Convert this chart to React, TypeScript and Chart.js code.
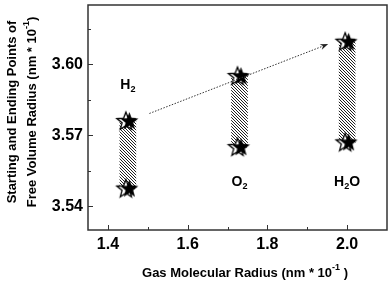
import React, { useEffect, useRef } from "react";
import { Chart, registerables } from "chart.js";

Chart.register(...registerables);

// ---- data ----
const gasNames = ["H2", "O2", "H2O"];
const molecularRadius = [1.45, 1.73, 2.0];
const startRadius = [3.5475, 3.565, 3.567];
const endRadius = [3.576, 3.595, 3.6095];
const labelX = [1.45, 1.73, 2.0];
const labelY = [3.5912, 3.5504, 3.5504];
const arrowFrom = [1.504, 3.5792];
const arrowTo = [1.9525, 3.6085];
const xTicks = [1.4, 1.6, 1.8, 2.0];
const xMinorTicks = [1.5, 1.7, 1.9];
const yTicks = [3.54, 3.57, 3.6];
const yMinorTicks = [3.555, 3.585, 3.615];

const FONT = "'Liberation Sans', Arial, sans-serif";

function starPath(ctx: CanvasRenderingContext2D, cx: number, cy: number, ro: number, ri: number) {
  ctx.beginPath();
  for (let i = 0; i < 10; i++) {
    const r = i % 2 === 0 ? ro : ri;
    const a = -Math.PI / 2 + (i * Math.PI) / 5;
    const x = cx + r * Math.cos(a);
    const y = cy + r * Math.sin(a);
    if (i === 0) ctx.moveTo(x, y);
    else ctx.lineTo(x, y);
  }
  ctx.closePath();
}

function makeStarImage() {
  const c = document.createElement("canvas");
  c.width = 28;
  c.height = 22;
  const ctx = c.getContext("2d")!;
  starPath(ctx, 12, 11.5, 9.5, 4);
  ctx.fillStyle = "#fff";
  ctx.fill();
  ctx.lineWidth = 1.3;
  ctx.strokeStyle = "#000";
  ctx.stroke();
  starPath(ctx, 15.5, 11.5, 9.5, 4);
  ctx.fillStyle = "#000";
  ctx.fill();
  return c;
}

function makeHatch(ctx: CanvasRenderingContext2D) {
  const t = document.createElement("canvas");
  t.width = 3;
  t.height = 3;
  const tc = t.getContext("2d")!;
  tc.fillStyle = "#fff";
  tc.fillRect(0, 0, 3, 3);
  tc.fillStyle = "#222";
  for (let i = 0; i < 3; i++) tc.fillRect(i, i, 1, 1);
  return ctx.createPattern(t, "repeat")!;
}

function drawRich(
  ctx: CanvasRenderingContext2D,
  parts: { t: string; size: number; dy: number }[],
  x: number,
  y: number,
  align: "center" | "left"
) {
  let total = 0;
  for (const p of parts) {
    ctx.font = `bold ${p.size}px ${FONT}`;
    total += ctx.measureText(p.t).width;
  }
  let cx = align === "center" ? x - total / 2 : x;
  ctx.textAlign = "left";
  ctx.textBaseline = "middle";
  for (const p of parts) {
    ctx.font = `bold ${p.size}px ${FONT}`;
    ctx.fillText(p.t, cx, y + p.dy);
    cx += ctx.measureText(p.t).width;
  }
}

function chemParts(name: string, size: number) {
  const parts: { t: string; size: number; dy: number }[] = [];
  for (const ch of name) {
    if (/[0-9]/.test(ch)) parts.push({ t: ch, size: size * 0.65, dy: size * 0.35 });
    else parts.push({ t: ch, size, dy: 0 });
  }
  return parts;
}

const decorPlugin = {
  id: "decor",
  afterDatasetsDraw(chart: any) {
    const ctx: CanvasRenderingContext2D = chart.ctx;
    const xs = chart.scales.x;
    const ys = chart.scales.y;
    ctx.save();
    const x1 = xs.getPixelForValue(arrowFrom[0]);
    const y1 = ys.getPixelForValue(arrowFrom[1]);
    const x2 = xs.getPixelForValue(arrowTo[0]);
    const y2 = ys.getPixelForValue(arrowTo[1]);
    const ang = Math.atan2(y2 - y1, x2 - x1);
    const hl = 8;
    ctx.strokeStyle = "#333";
    ctx.lineWidth = 1;
    ctx.setLineDash([1.5, 1.5]);
    ctx.beginPath();
    ctx.moveTo(x1, y1);
    ctx.lineTo(x2 - hl * 0.8 * Math.cos(ang), y2 - hl * 0.8 * Math.sin(ang));
    ctx.stroke();
    ctx.setLineDash([]);
    ctx.fillStyle = "#222";
    ctx.beginPath();
    ctx.moveTo(x2, y2);
    ctx.lineTo(x2 - hl * Math.cos(ang) + 3 * Math.sin(ang), y2 - hl * Math.sin(ang) - 3 * Math.cos(ang));
    ctx.lineTo(x2 - hl * 0.7 * Math.cos(ang), y2 - hl * 0.7 * Math.sin(ang));
    ctx.lineTo(x2 - hl * Math.cos(ang) - 3 * Math.sin(ang), y2 - hl * Math.sin(ang) + 3 * Math.cos(ang));
    ctx.closePath();
    ctx.fill();
    ctx.fillStyle = "#000";
    gasNames.forEach((n, i) => {
      drawRich(ctx, chemParts(n, 14), xs.getPixelForValue(labelX[i]), ys.getPixelForValue(labelY[i]), "center");
    });
    ctx.restore();
  },
  afterDraw(chart: any) {
    const ctx: CanvasRenderingContext2D = chart.ctx;
    const a = chart.chartArea;
    const xs = chart.scales.x;
    const ys = chart.scales.y;
    ctx.save();
    ctx.strokeStyle = "#333";
    ctx.lineWidth = 1.5;
    ctx.strokeRect(a.left, a.top, a.right - a.left, a.bottom - a.top);
    ctx.lineWidth = 1;
    ctx.beginPath();
    xTicks.forEach((v) => {
      const p = Math.round(xs.getPixelForValue(v)) + 0.5;
      ctx.moveTo(p, a.bottom);
      ctx.lineTo(p, a.bottom - 5);
    });
    xMinorTicks.forEach((v) => {
      const p = Math.round(xs.getPixelForValue(v)) + 0.5;
      ctx.moveTo(p, a.bottom);
      ctx.lineTo(p, a.bottom - 3);
    });
    yTicks.forEach((v) => {
      const p = Math.round(ys.getPixelForValue(v)) + 0.5;
      ctx.moveTo(a.left, p);
      ctx.lineTo(a.left + 5, p);
    });
    yMinorTicks.forEach((v) => {
      const p = Math.round(ys.getPixelForValue(v)) + 0.5;
      ctx.moveTo(a.left, p);
      ctx.lineTo(a.left + 3, p);
    });
    ctx.stroke();
    ctx.fillStyle = "#000";
    drawRich(
      ctx,
      [
        { t: "Gas Molecular Radius (nm * 10", size: 13, dy: 0 },
        { t: "-1", size: 9, dy: -5 },
        { t: " )", size: 13, dy: 0 },
      ],
      245,
      273,
      "center"
    );
    ctx.translate(12, 112);
    ctx.rotate(-Math.PI / 2);
    drawRich(ctx, [{ t: "Starting and Ending Points of", size: 13, dy: 0 }], 0, 0, "center");
    ctx.translate(0, 20);
    drawRich(
      ctx,
      [
        { t: "Free Volume Radius (nm * 10", size: 13, dy: 0 },
        { t: "-1", size: 9, dy: -5 },
        { t: ")", size: 13, dy: 0 },
      ],
      0,
      0,
      "center"
    );
    ctx.restore();
  },
};

export default function App() {
  const ref = useRef<HTMLCanvasElement | null>(null);
  useEffect(() => {
    document.body.style.margin = "0";
    const canvas = ref.current!;
    const ctx = canvas.getContext("2d")!;
    const star = makeStarImage();
    const hatch = makeHatch(ctx);
    const pts = molecularRadius.flatMap((x, i) => [
      { x, y: startRadius[i] },
      { x, y: endRadius[i] },
    ]);
    const chart = new Chart(canvas, {
      type: "scatter",
      data: {
        datasets: [
          {
            type: "scatter",
            data: pts,
            pointStyle: star as any,
            order: 0,
          } as any,
          {
            type: "bar",
            data: molecularRadius.map((x, i) => ({ x, y: [startRadius[i], endRadius[i]] })),
            backgroundColor: hatch,
            borderWidth: 0,
            barThickness: 16,
            order: 1,
          } as any,
        ],
      },
      options: {
        animation: false,
        responsive: false,
        devicePixelRatio: 1,
        layout: { padding: { top: 2, right: 3, left: 0, bottom: 0 } },
        plugins: { legend: { display: false }, tooltip: { enabled: false } },
        scales: {
          x: {
            type: "linear",
            min: 1.35,
            max: 2.1,
            offset: false,
            grid: { display: false, drawTicks: false, offset: false },
            border: { display: false },
            afterBuildTicks: (s: any) => {
              s.ticks = xTicks.map((v) => ({ value: v }));
            },
            afterFit: (s: any) => {
              s.height = 52;
              s.paddingLeft = 0;
              s.paddingRight = 0;
            },
            ticks: {
              padding: 5,
              color: "#000",
              font: { family: FONT, size: 16, weight: "bold" },
              callback: (v: any) => Number(v).toFixed(1),
              maxRotation: 0,
            },
          },
          y: {
            type: "linear",
            min: 3.53,
            max: 3.625,
            grid: { display: false, drawTicks: false },
            border: { display: false },
            afterBuildTicks: (s: any) => {
              s.ticks = yTicks.map((v) => ({ value: v }));
            },
            afterFit: (s: any) => {
              s.width = 88;
              s.paddingTop = 0;
              s.paddingBottom = 0;
            },
            ticks: {
              padding: 5,
              color: "#000",
              font: { family: FONT, size: 16, weight: "bold" },
              callback: (v: any) => Number(v).toFixed(2),
            },
          },
        },
      },
      plugins: [decorPlugin],
    });
    return () => chart.destroy();
  }, []);
  return (
    <div style={{ width: 392, height: 282 }}>
      <canvas ref={ref} width={392} height={282} style={{ display: "block" }} />
    </div>
  );
}
